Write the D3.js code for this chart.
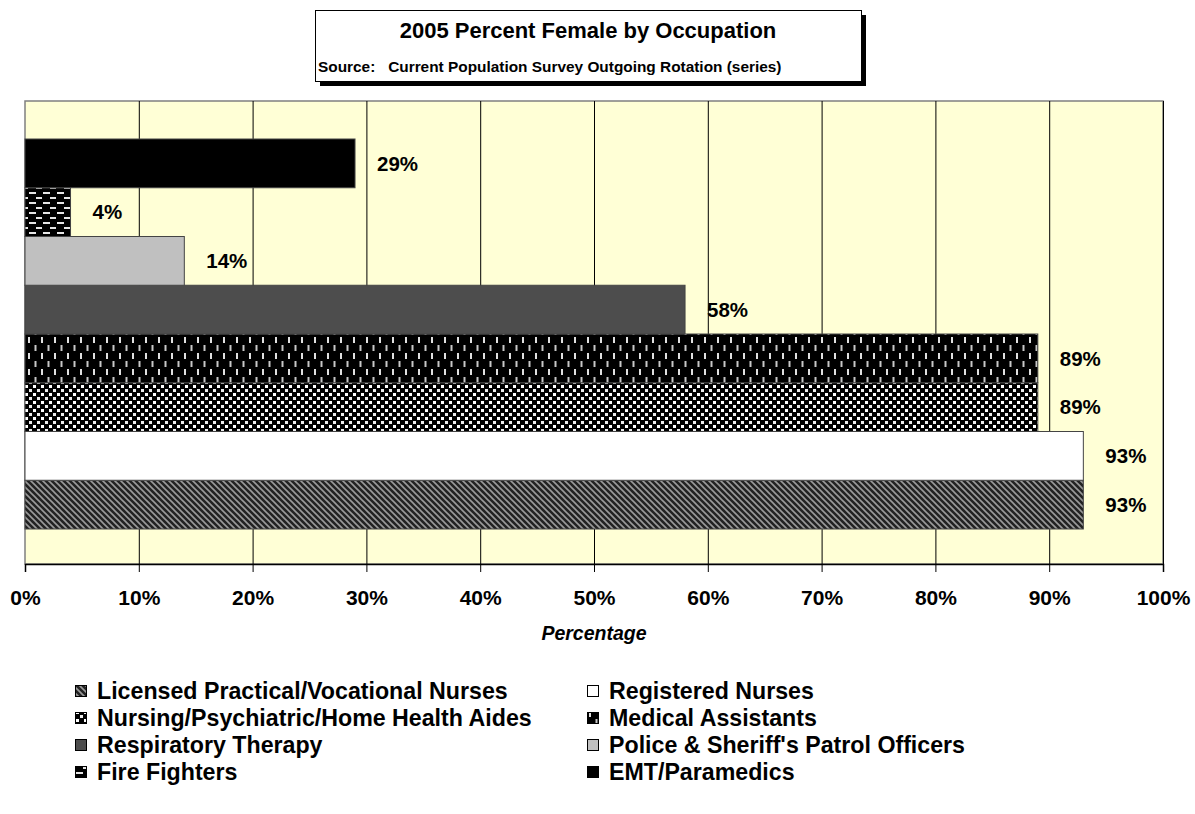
<!DOCTYPE html>
<html><head><meta charset="utf-8">
<script src="https://cdn.jsdelivr.net/npm/d3@7"></script>
<style>body{margin:0;background:#fff;} text{font-family:"Liberation Sans",Arial,sans-serif;font-weight:bold;}</style>
</head><body><svg id="c" width="1195" height="814"></svg>
<script>
const series = ["Licensed Practical/Vocational Nurses","Registered Nurses","Nursing/Psychiatric/Home Health Aides","Medical Assistants","Respiratory Therapy","Police & Sheriff's Patrol Officers","Fire Fighters","EMT/Paramedics"];
const values = [93, 93, 89, 89, 58, 14, 4, 29];
const fills = ["url(#pDiag)","#ffffff","url(#pConf)","url(#pVert)","#4d4d4d","#c0c0c0","url(#pHoriz)","#000000"];
const xTicks = [0,10,20,30,40,50,60,70,80,90,100];
const titleText = "2005 Percent Female by Occupation";
const subtitleText = "Source:   Current Population Survey Outgoing Rotation (series)";
const axisTitle = "Percentage";

const svg = d3.select("#c");
const defs = svg.append("defs");
// patterns
let p = defs.append("pattern").attr("id","pDiag").attr("patternUnits","userSpaceOnUse").attr("width",6).attr("height",6);
p.append("rect").attr("width",6).attr("height",6).attr("fill","#222");
p.append("path").attr("d","M-1,-1 L7,7 M-4,2 L4,10 M2,-4 L10,4").attr("stroke","#9a9a9a").attr("stroke-width",1.6);
p = defs.append("pattern").attr("id","pConf").attr("patternUnits","userSpaceOnUse").attr("width",8).attr("height",8);
p.append("rect").attr("width",8).attr("height",8).attr("fill","#000");
p.append("rect").attr("x",1).attr("y",1).attr("width",3).attr("height",3).attr("fill","#fff");
p.append("rect").attr("x",5).attr("y",5).attr("width",3).attr("height",3).attr("fill","#eee");
p = defs.append("pattern").attr("id","pVert").attr("patternUnits","userSpaceOnUse").attr("width",13).attr("height",16);
p.append("rect").attr("width",13).attr("height",16).attr("fill","#000");
p.append("rect").attr("x",2).attr("y",1).attr("width",2).attr("height",6).attr("fill","#e0e0e0");
p.append("rect").attr("x",8.5).attr("y",9).attr("width",2).attr("height",6).attr("fill","#c8c8c8");
p = defs.append("pattern").attr("id","pHoriz").attr("patternUnits","userSpaceOnUse").attr("width",14).attr("height",10);
p.append("rect").attr("width",14).attr("height",10).attr("fill","#000");
p.append("rect").attr("x",1).attr("y",2).attr("width",7).attr("height",2).attr("fill","#e6e6e6");
p.append("rect").attr("x",8).attr("y",7).attr("width",7).attr("height",2).attr("fill","#e6e6e6");

const L = 25, R = 1163, T = 101, B = 564;
const x = d3.scaleLinear().domain([0,100]).range([L,R]);
const y = d3.scaleBand().domain(series.slice().reverse()).range([T+38, B-35]).padding(0);

// plot area
svg.append("rect").attr("x",L).attr("y",T).attr("width",R-L).attr("height",B-T).attr("fill","#ffffd6").attr("stroke","#808080").attr("stroke-width",1.5);
// gridlines
svg.append("g").selectAll("line").data(xTicks.slice(1)).join("line")
  .attr("x1",d=>x(d)+0.5).attr("x2",d=>x(d)+0.5).attr("y1",T).attr("y2",B).attr("stroke","#000").attr("stroke-width",1);

// bars
svg.append("g").selectAll("rect").data(series).join("rect")
  .attr("x",x(0)).attr("y",d=>y(d)).attr("width",(d,i)=>x(values[i])-x(0)).attr("height",y.bandwidth())
  .attr("fill",(d,i)=>fills[i]).attr("stroke","#444").attr("stroke-width",1);

// labels
svg.append("g").selectAll("text").data(series).join("text")
  .attr("x",(d,i)=>x(values[i])+22).attr("y",d=>y(d)+y.bandwidth()/2).attr("dy","0.35em")
  .attr("font-size",20.5).attr("fill","#000").text((d,i)=>values[i]+"%");

// axis
const ax = svg.append("g").attr("transform",`translate(0,${B})`)
  .call(d3.axisBottom(x).tickValues(xTicks).tickFormat(d=>d+"%").tickSize(8).tickPadding(18));
ax.select(".domain").attr("stroke","#000").attr("stroke-width",1.5);
ax.selectAll(".tick line").attr("stroke","#000");
ax.selectAll(".tick text").attr("font-size",21).attr("font-family","Liberation Sans, Arial, sans-serif").attr("font-weight","bold").attr("fill","#000");

svg.append("text").attr("x",(L+R)/2).attr("y",640).attr("text-anchor","middle").attr("font-size",19.5).attr("font-style","italic").text(axisTitle);

// title box
svg.append("rect").attr("x",320).attr("y",15).attr("width",546).attr("height",71).attr("fill","#000");
svg.append("rect").attr("x",315.5).attr("y",10.5).attr("width",546).attr("height",71).attr("fill","#fff").attr("stroke","#000").attr("stroke-width",1);
svg.append("text").attr("x",588).attr("y",38).attr("text-anchor","middle").attr("font-size",22).text(titleText);
svg.append("text").attr("x",318).attr("y",72).attr("font-size",15.4).attr("xml:space","preserve").style("white-space","pre").text(subtitleText);

// legend
const legendCols = [75, 587];
const legendRows = [699, 726, 753, 780];
const lg = svg.append("g").selectAll("g").data(series).join("g")
  .attr("transform",(d,i)=>`translate(${legendCols[i%2]},${legendRows[Math.floor(i/2)]})`);
lg.append("rect").attr("x",0.5).attr("y",-13.5).attr("width",11).attr("height",11).attr("fill",(d,i)=>fills[i]).attr("stroke","#000").attr("stroke-width",1);
lg.append("text").attr("x",22).attr("y",0).attr("font-size",23.2).text(d=>d);
</script></body></html>
